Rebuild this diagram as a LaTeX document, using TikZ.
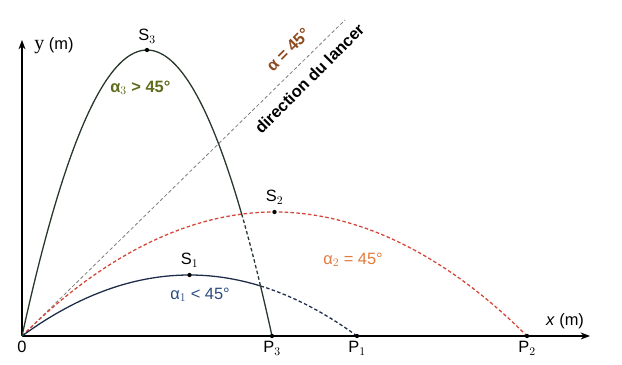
\documentclass[tikz,border=0pt]{standalone}
\usepackage{fontspec}
\setmainfont{Liberation Sans}
\newfontfamily\serify{Liberation Serif}
\usetikzlibrary{arrows.meta}

\definecolor{TrajOne}{HTML}{1E2D4A}
\definecolor{TrajTwo}{HTML}{D5473A}
\definecolor{TrajThree}{HTML}{27372A}
\definecolor{LabOne}{HTML}{2B4C80}
\definecolor{LabTwo}{HTML}{E27A3C}
\definecolor{LabThree}{HTML}{5E6E1C}
\definecolor{LabDir}{HTML}{8C4A1E}

\tikzset{
  pt/.style={circle,fill=black,inner sep=1.3pt},
  lab/.style={font=\fontsize{14}{16}\selectfont},
  blab/.style={font=\bfseries\fontsize{14}{16}\selectfont},
  traj/.style={line width=1.1pt},
  hid/.style={dash pattern=on 3pt off 2pt},
}

\begin{document}
\begin{tikzpicture}
  \useasboundingbox (-0.66,-0.87) rectangle (18.0,10.08);
  % points on the axes
  \coordinate (O) at (0,0);
  \coordinate (P3) at (7.5,0);
  \coordinate (P1) at (10.05,0);
  \coordinate (P2) at (15.15,0);
  \coordinate (xend) at (17.04,0);
  \coordinate (yend) at (0,8.88);
  % summits and end of the launch line
  \coordinate (S3) at (3.75,8.58);
  \coordinate (S2) at (7.575,3.72);
  \coordinate (S1) at (5.025,1.83);
  \coordinate (D) at (9.69,9.48);

  % axes
  \draw[line width=1pt,-{Stealth[length=8pt,width=6pt]}] (O) -- (xend);
  \draw[line width=1pt,-{Stealth[length=8pt,width=6pt]}] (O) -- (yend);

  % launch direction
  \draw[gray,hid,line width=0.7pt] (O) -- (D);

  % trajectories
  \draw[traj,TrajTwo,hid] (O) parabola bend (S2) (P2);
  \draw[traj,TrajOne] plot[domain=0:7.156,smooth,samples=40] (\x,{0.07247*\x*(10.05-\x)});
  \draw[traj,TrajOne,hid] plot[domain=7.156:10.05,smooth,samples=20] (\x,{0.07247*\x*(10.05-\x)});
  \draw[traj,TrajThree] plot[domain=0:6.59,smooth,samples=60] (\x,{0.61013*\x*(7.5-\x)});
  \draw[traj,TrajThree,hid] plot[domain=6.59:7.156,smooth,samples=10] (\x,{0.61013*\x*(7.5-\x)});
  \draw[traj,TrajThree] plot[domain=7.156:7.5,smooth,samples=10] (\x,{0.61013*\x*(7.5-\x)});

  % dots
  \foreach \p in {S1,S2,S3,P1,P2,P3}
    \node[pt] at (\p) {};

  % labels
  \node[lab,above=2pt] (lS3) at (S3) {S$_3$};
  \node[lab,above=3pt] (lS2) at (S2) {S$_2$};
  \node[lab,above=3pt] (lS1) at (S1) {S$_1$};
  \node[lab,below=1pt] (lO) at (O) {0};
  \node[lab,below=1pt] (lP3) at (P3) {P$_3$};
  \node[lab,below=1pt] (lP1) at (P1) {P$_1$};
  \node[lab,below=1pt] (lP2) at (P2) {P$_2$};
  \node[lab,anchor=west] (ly) at (0.25,8.7) {{\serify\fontsize{17}{17}\selectfont y} (m)};
  \node[lab] (lx) at (16.29,0.45) {\textit{x} (m)};
  \node[blab,LabThree] (a3) at (3.55,7.44) {α$_3$ > 45°};
  \node[lab,LabTwo] (a2) at (9.93,2.28) {α$_2$ = 45°};
  \node[lab,LabOne] (a1) at (5.34,1.23) {α$_1$ < 45°};
  \node[blab,LabDir,rotate=45] (a) at (7.98,8.58) {α = 45°};
  \node[blab,rotate=45] (dir) at (8.62,7.72) {direction du lancer};
\end{tikzpicture}
\end{document}
